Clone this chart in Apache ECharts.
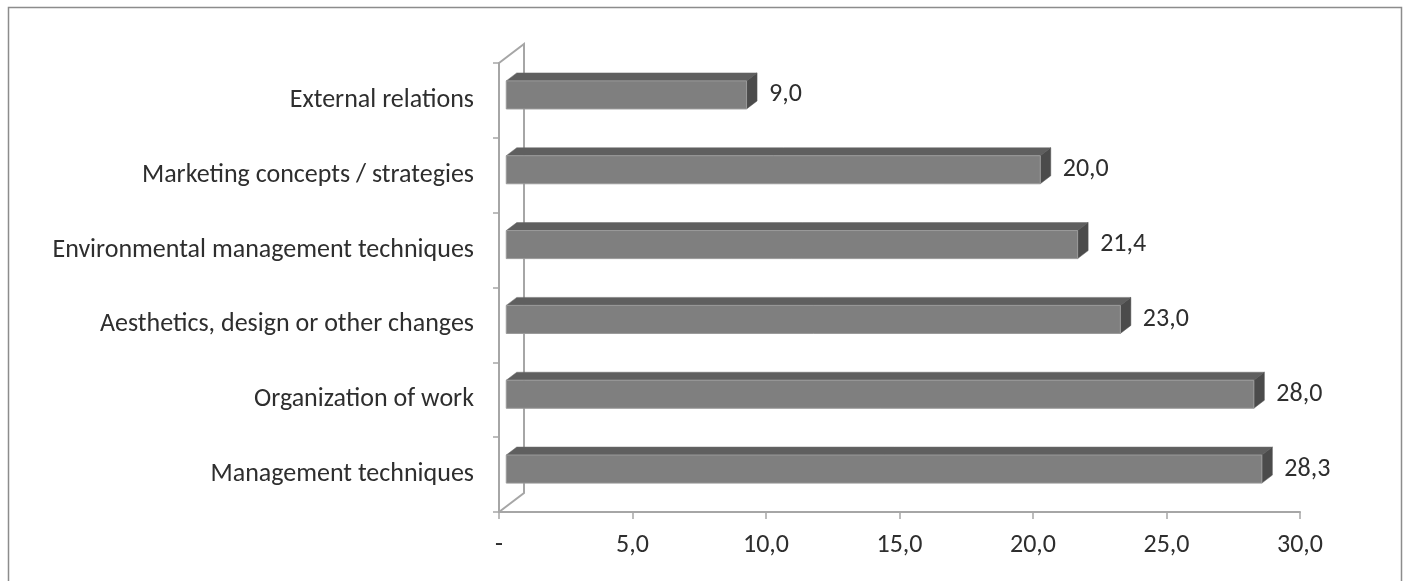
<!DOCTYPE html>
<html>
<head>
<meta charset="utf-8">
<title>Types of innovation</title>
<script src="https://cdn.jsdelivr.net/npm/echarts@6/dist/echarts.min.js"></script>
<style>
  html, body { margin: 0; padding: 0; background: #ffffff; }
  #chart { width: 1406px; height: 581px; }
</style>
</head>
<body>
<div id="chart"></div>
<script>
// Categories listed bottom to top
const categories = [
  'Management techniques',
  'Organization of work',
  'Aesthetics, design or other changes',
  'Environmental management techniques',
  'Marketing concepts / strategies',
  'External relations'
];
const values = [28.3, 28.0, 23.0, 21.4, 20.0, 9.0];
const xTicks = [0, 5, 10, 15, 20, 25, 30];

const FONT = 'Carlito, Lato, "Noto Sans", sans-serif';
const FONT_SIZE = 26;
const TEXT = '#2e2e2e';
const LINE = '#a6a6a6';

// perspective of the 3D box: full depth offset of the back wall
const DEPTH_X = 25;
const DEPTH_Y = -19;
// bar occupies this slice of the depth
const D_FRONT = 0.29;
const D_BACK = 0.71;
const BAR_RATIO = 0.375;

const fmt = v => v.toFixed(1).replace('.', ',');

function renderBar(params, api) {
  const v = api.value(0);
  const idx = api.value(1);
  const p0 = api.coord([0, idx]);
  const p1 = api.coord([v, idx]);
  const band = api.size([0, 1])[1];
  const h = band * BAR_RATIO;
  const fx = DEPTH_X * D_FRONT, fy = DEPTH_Y * D_FRONT;
  const dx = DEPTH_X * (D_BACK - D_FRONT), dy = DEPTH_Y * (D_BACK - D_FRONT);
  const x0 = p0[0] + fx, x1 = p1[0] + fx;
  const yc = p0[1] + fy;
  const yt = yc - h / 2, yb = yc + h / 2;
  return {
    type: 'group',
    children: [
      { type: 'polygon', shape: { points: [[x0, yt], [x1, yt], [x1 + dx, yt + dy], [x0 + dx, yt + dy]] },
        style: { fill: '#5f5f5f', stroke: '#6a6a6a', lineWidth: 0.5 } },
      { type: 'polygon', shape: { points: [[x1, yt], [x1 + dx, yt + dy], [x1 + dx, yb + dy], [x1, yb]] },
        style: { fill: '#4b4b4b', stroke: '#555555', lineWidth: 0.5 } },
      { type: 'rect', shape: { x: x0, y: yt, width: x1 - x0, height: h },
        style: { fill: '#7f7f7f', stroke: '#9a9a9a', lineWidth: 1 } },
      { type: 'text', x: x1 + dx + 12, y: yc,
        style: { text: fmt(v), fill: TEXT, font: FONT_SIZE + 'px ' + FONT, verticalAlign: 'middle', align: 'left' } }
    ]
  };
}

function renderWall(params, api) {
  const cs = params.coordSys;
  const x0 = cs.x, top = cs.y, bottom = cs.y + cs.height;
  const style = { stroke: LINE, lineWidth: 2, fill: null };
  return {
    type: 'group',
    children: [
      { type: 'polyline', shape: { points: [[x0, top], [x0 + DEPTH_X, top + DEPTH_Y], [x0 + DEPTH_X, bottom + DEPTH_Y], [x0, bottom]] }, style }
    ]
  };
}

const chart = echarts.init(document.getElementById('chart'), null, { renderer: 'canvas' });
chart.setOption({
  backgroundColor: '#ffffff',
  animation: false,
  graphic: [{
    type: 'rect', shape: { x: 8.5, y: 7.5, width: 1393, height: 620 },
    style: { fill: null, stroke: '#8c8c8c', lineWidth: 1.5 }, silent: true
  }],
  grid: { left: 499, right: 106, top: 63, bottom: 69 },
  xAxis: {
    type: 'value', min: 0, max: 30, interval: 5,
    axisLine: { show: true, lineStyle: { color: LINE, width: 2 } },
    axisTick: { show: true, length: 7, lineStyle: { color: LINE, width: 1.5 } },
    splitLine: { show: false },
    axisLabel: {
      margin: 20, color: TEXT, fontFamily: FONT, fontSize: FONT_SIZE,
      formatter: v => (xTicks.indexOf(v) === 0 ? '-' : fmt(v))
    }
  },
  yAxis: {
    type: 'category', data: categories,
    axisLine: { show: true, lineStyle: { color: LINE, width: 2 } },
    axisTick: { show: true, length: 6, lineStyle: { color: LINE, width: 1.5 } },
    axisLabel: { margin: 25, color: TEXT, fontFamily: FONT, fontSize: FONT_SIZE }
  },
  series: [
    {
      type: 'custom', renderItem: renderWall, silent: true, z: 1,
      data: [[0, 0]], encode: { x: 0, y: 1 }
    },
    {
      type: 'custom', renderItem: renderBar, z: 2,
      data: values.map((v, i) => [v, i]), encode: { x: 0, y: 1 }
    }
  ]
});
</script>
</body>
</html>
